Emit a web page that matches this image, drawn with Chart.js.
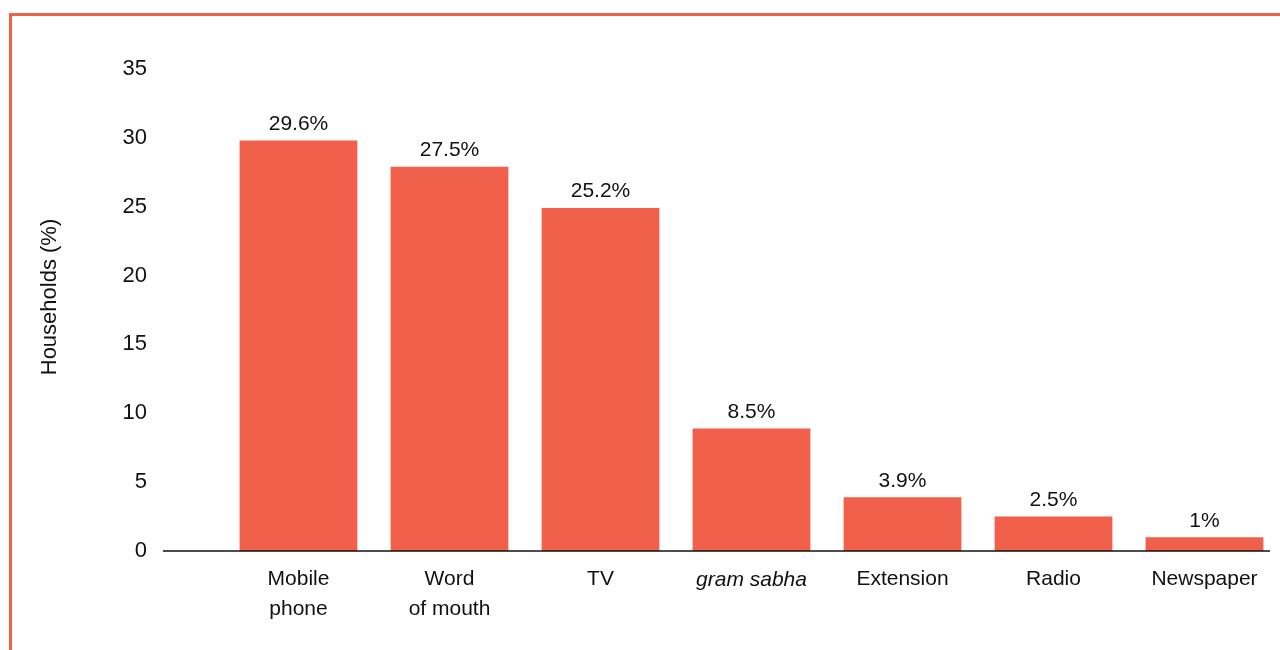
<!DOCTYPE html>
<html>
<head>
<meta charset="utf-8">
<script src="https://cdn.jsdelivr.net/npm/chart.js@4"></script>
<style>
  body { margin: 0; background: #fff; }
  #wrap { position: relative; width: 1280px; height: 650px; overflow: hidden; }
  #frame { position: absolute; left: 9px; top: 13px; width: 1400px; height: 800px;
           border-left: 3px solid #f0604a; border-top: 3px solid #f0604a; }
  canvas { position: absolute; left: 0; top: 0; }
</style>
</head>
<body>
<div id="wrap">
  <div id="frame"></div>
  <canvas id="grafico" width="1280" height="650"></canvas>
</div>
<script>
const categorias = [['Mobile', 'phone'], ['Word', 'of mouth'], 'TV', 'gram sabha', 'Extension', 'Radio', 'Newspaper'];
const valores = [29.8, 27.9, 24.9, 8.9, 3.9, 2.5, 1];
const rotulos = ['29.6%', '27.5%', '25.2%', '8.5%', '3.9%', '2.5%', '1%'];
const ticksY = [0, 5, 10, 15, 20, 25, 30, 35];
const tituloY = 'Households (%)';

const fonte = '"Liberation Sans", Arial, Helvetica, sans-serif';
const corBarra = '#f0604a';

// rótulos acima das barras, linha de base e título do eixo y
const extras = {
  id: 'extras',
  afterDatasetsDraw(chart) {
    const ctx = chart.ctx;
    const meta = chart.getDatasetMeta(0);
    ctx.save();
    ctx.fillStyle = '#111';
    ctx.font = '21px ' + fonte;
    ctx.textAlign = 'center';
    ctx.textBaseline = 'bottom';
    meta.data.forEach((bar, i) => {
      ctx.fillText(rotulos[i], bar.x, bar.y - 6);
    });
    const y0 = chart.scales.y.getPixelForValue(0);
    ctx.strokeStyle = '#111';
    ctx.lineWidth = 1.5;
    ctx.beginPath();
    ctx.moveTo(163, y0);
    ctx.lineTo(1270, y0);
    ctx.stroke();

    ctx.translate(50, 297);
    ctx.rotate(-Math.PI / 2);
    ctx.font = '22px ' + fonte;
    ctx.textBaseline = 'middle';
    ctx.fillText(tituloY, 0, 0);
    ctx.restore();
  }
};

new Chart(document.getElementById('grafico').getContext('2d'), {
  type: 'bar',
  data: {
    labels: categorias,
    datasets: [{
      data: valores,
      backgroundColor: corBarra,
      categoryPercentage: 0.78,
      barPercentage: 1
    }]
  },
  options: {
    responsive: false,
    animation: false,
    layout: { padding: { top: 69, right: 0, bottom: 0, left: 0 } },
    plugins: { legend: { display: false }, tooltip: { enabled: false } },
    scales: {
      x: {
        grid: { display: false },
        border: { display: false },
        afterFit: s => { s.height = 99; s.paddingLeft = 0; s.paddingRight = 0; },
        ticks: {
          color: '#111',
          padding: 6,
          maxRotation: 0,
          autoSkip: false,
          font: c => ({ family: fonte, size: 21, lineHeight: 1.4, style: c.index === 3 ? 'italic' : 'normal' })
        }
      },
      y: {
        min: 0,
        max: 35,
        grid: { display: false, drawTicks: false },
        border: { display: false },
        afterFit: s => { s.width = 223; s.paddingTop = 0; s.paddingBottom = 0; },
        afterBuildTicks: s => { s.ticks = ticksY.map(v => ({ value: v })); },
        ticks: {
          color: '#111',
          padding: 76,
          font: { family: fonte, size: 22 }
        }
      }
    }
  },
  plugins: [extras]
});
</script>
</body>
</html>
